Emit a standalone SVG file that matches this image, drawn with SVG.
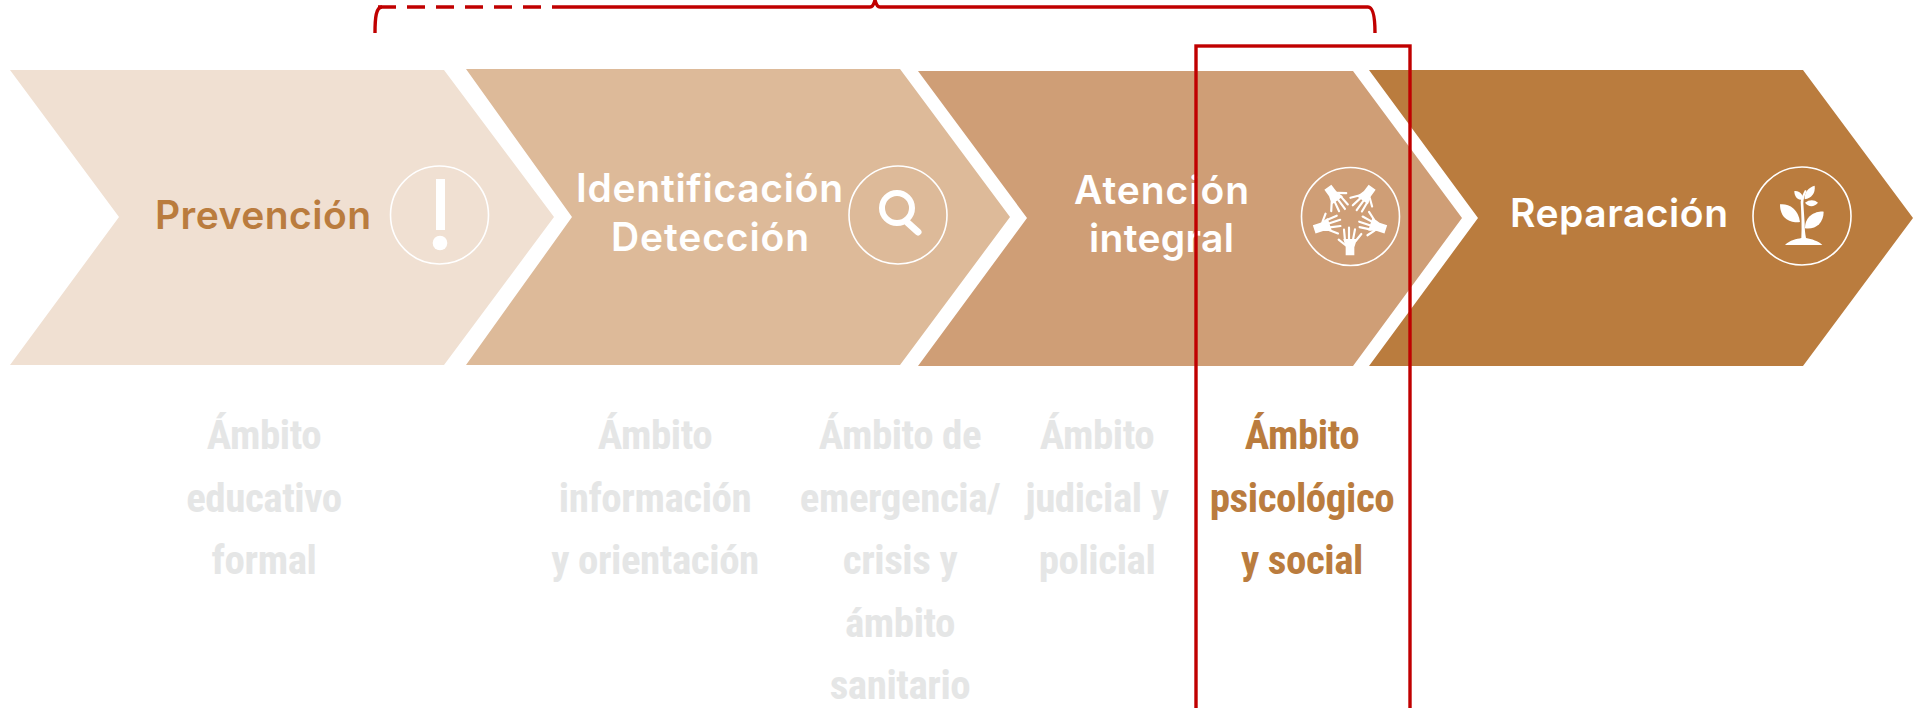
<svg xmlns="http://www.w3.org/2000/svg" xmlns:xlink="http://www.w3.org/1999/xlink" width="1921" height="708" viewBox="0 0 1921 708">
<style>
.h{font-family:"Inter","Noto Sans","Liberation Sans",sans-serif;font-weight:620;font-size:39px;text-anchor:middle;fill:#fff}
.a{font-family:"Roboto Condensed","Roboto","Liberation Sans",sans-serif;font-weight:700;font-stretch:condensed;font-size:41px;letter-spacing:-.45px;text-anchor:middle;fill:#e5e6e6}
.ring{fill:none;stroke:#fff;stroke-width:1.6}
.line{fill:none;stroke:#c00000;stroke-width:3.400}
.f{stroke:#fff;stroke-width:6.500;stroke-linecap:round;fill:none}
</style>
<defs>
<g id="hand"><path d="M197 301V277L190 252H231L223 277V301Z" fill="#fff"/><path class="f" d="M196 270L176 254M195 256L192 224M207 254L207 218M219 254L225 223M227 258L244 237"/></g>
</defs>
<g id="prevencion">
<polygon points="10,70 444,70 554,217 444,365 10,365 119,217" fill="#f0e0d2"/>
<text class="h" x="263" y="229" textLength="216" lengthAdjust="spacing" style="fill:#ba7c3e">Prevención</text>
<circle class="ring" cx="439.500" cy="215" r="49"/>
<rect x="436" y="179" width="9" height="51" fill="#fff"/><circle cx="440" cy="243" r="7.3" fill="#fff"/>
</g>
<g id="identificacion">
<polygon points="466,69 900,69 1010,217 900,365 466,365 572,217" fill="#ddba99"/>
<text class="h" x="709.500" y="202" textLength="267" lengthAdjust="spacing">Identificación</text>
<text class="h" x="710" y="251" textLength="198" lengthAdjust="spacing">Detección</text>
<circle class="ring" cx="898" cy="215" r="49"/>
<circle cx="897" cy="208" r="15" fill="none" stroke="#fff" stroke-width="6"/>
<path d="M908 223L918 232" stroke="#fff" stroke-width="7" stroke-linecap="round"/>
</g>
<g id="atencion">
<polygon points="918,71 1353,71 1462,218 1353,366 918,366 1027,218" fill="#cf9e76"/>
<text class="h" x="1161.500" y="204" textLength="175" lengthAdjust="spacing">Atención</text>
<text class="h" x="1161.500" y="252" textLength="145" lengthAdjust="spacing">integral</text>
<circle class="ring" cx="1350.500" cy="216.500" r="49"/>
<g transform="translate(1280 155) scale(.33333)">
<use xlink:href="#hand" href="#hand"/>
<use xlink:href="#hand" href="#hand" transform="rotate(72 210 188)"/>
<use xlink:href="#hand" href="#hand" transform="rotate(144 210 188)"/>
<use xlink:href="#hand" href="#hand" transform="rotate(216 210 188)"/>
<use xlink:href="#hand" href="#hand" transform="rotate(288 210 188)"/>
</g>
</g>
<g id="reparacion">
<polygon points="1369,70 1803,70 1913,218 1803,366 1369,366 1478,218" fill="#ba7c3e"/>
<text class="h" x="1619" y="227" textLength="218" lengthAdjust="spacing">Reparación</text>
<circle class="ring" cx="1802" cy="216" r="49"/>
<g transform="translate(1480 140) scale(.33333)" fill="#fff">
<path d="M915 315C930 300 950 297 964 294C966 260 964 220 962 185C964 170 970 160 975 150L980 152C975 165 970 175 970 190L974 250C974 265 975 280 978 294C995 297 1015 303 1027 315Z"/>
<path d="M900 193C925 190 955 205 960 246C935 250 900 240 900 193Z"/>
<path d="M1031 215C1010 213 975 225 975 265C1005 270 1031 250 1031 215Z"/>
<path d="M943 153C958 151 970 162 969 180C952 180 943 170 943 153Z"/>
<path d="M1004 137C1007 158 995 175 974 178C972 158 985 142 1004 137Z"/>
<path d="M1014 188C1003 178 988 178 975 188C985 202 1003 202 1014 188Z"/>
</g>
</g>
<g id="ambitos">
<text class="a" id="ambito-1"><tspan x="264" y="449">Ámbito</tspan><tspan x="264" y="512">educativo</tspan><tspan x="264" y="574">formal</tspan></text>
<text class="a" id="ambito-2"><tspan x="655" y="449">Ámbito</tspan><tspan x="655" y="512">información</tspan><tspan x="655" y="574">y orientación</tspan></text>
<text class="a" id="ambito-3"><tspan x="900" y="449">Ámbito de</tspan><tspan x="900" y="512">emergencia/</tspan><tspan x="900" y="574">crisis y</tspan><tspan x="900" y="637">ámbito</tspan><tspan x="900" y="699">sanitario</tspan></text>
<text class="a" id="ambito-4"><tspan x="1097" y="449">Ámbito</tspan><tspan x="1097" y="512">judicial y</tspan><tspan x="1097" y="574">policial</tspan></text>
<text class="a" id="ambito-5" style="fill:#ba7c3e"><tspan x="1302" y="449">Ámbito</tspan><tspan x="1302" y="512">psicológico</tspan><tspan x="1302" y="574">y social</tspan></text>
</g>
<g id="connectors">
<path class="line" d="M375 33C375 18 376 7 382 7"/>
<path class="line" d="M378 7H552" stroke-dasharray="18 11"/>
<path class="line" d="M552 7H870C873 7 874 4 875 0C876 4 877 7 880 7H1368C1373 7 1375 18 1375 33"/>
<rect class="line" x="1196" y="46" width="214" height="680" stroke-width="2.400"/>
</g>
</svg>
